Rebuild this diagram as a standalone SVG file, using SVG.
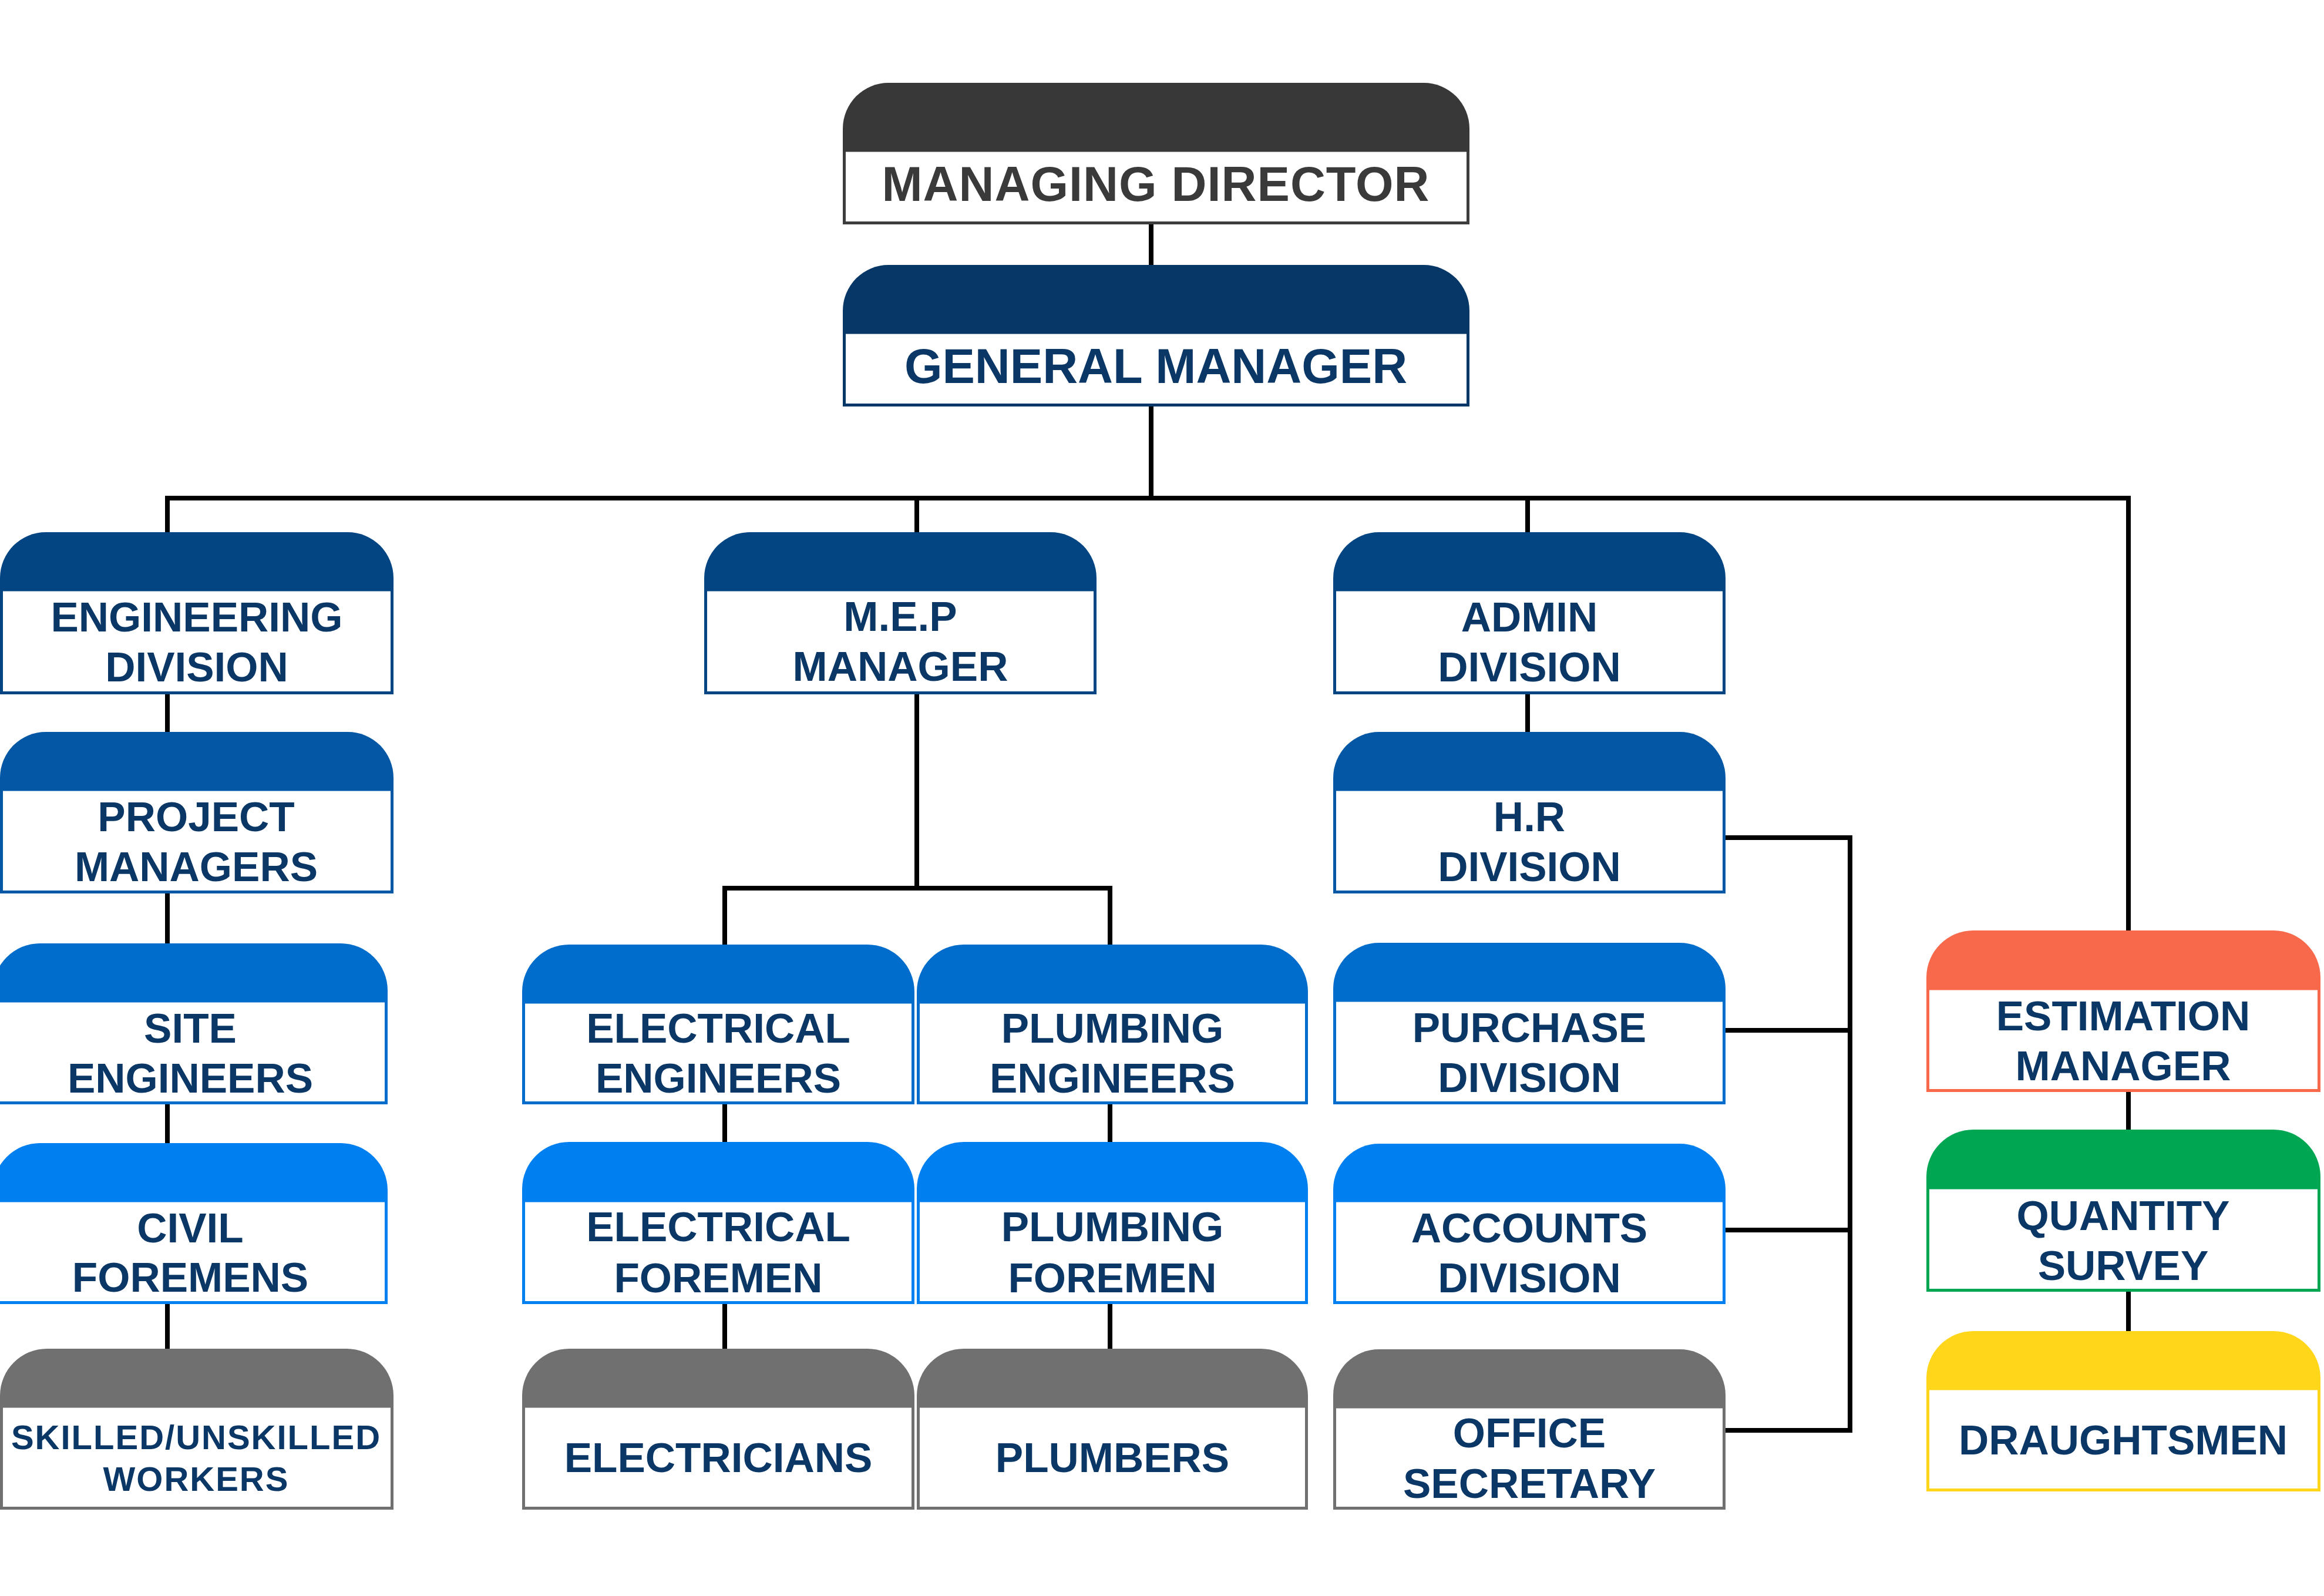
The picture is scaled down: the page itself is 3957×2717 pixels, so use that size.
<svg xmlns="http://www.w3.org/2000/svg" width="3957" height="2717" viewBox="0 0 3957 2717">
<style>
.bg{fill:#ffffff}
.ln{fill:none;stroke:#000000;stroke-width:8}
.body{fill:#ffffff;stroke-width:5}
.t{font-family:"Liberation Sans",Arial,sans-serif;font-weight:bold;font-size:71px;fill:#0a3766;text-anchor:middle}
.big{font-size:83px}
.sm{font-size:58px;letter-spacing:2px}
.c0{fill:#383838}.s0{stroke:#3d3d3d}
.c1{fill:#063767}.s1{stroke:#063767}
.c2{fill:#034583}.s2{stroke:#034583}
.c3{fill:#0357a5}.s3{stroke:#0357a5}
.c4{fill:#006ccc}.s4{stroke:#006ccc}
.c5{fill:#0080f0}.s5{stroke:#0080f0}
.c6{fill:#707070}.s6{stroke:#707070}
.c7{fill:#f8694b}.s7{stroke:#f8694b}
.c8{fill:#00a652}.s8{stroke:#00a652}
.c9{fill:#ffd61a}.s9{stroke:#ffd61a}
</style>
<rect class="bg" x="0" y="0" width="3957" height="2717"/>
<g id="connectors">
<path class="ln" d="M1960,382 V451"/>
<path class="ln" d="M1960,692 V848"/>
<path class="ln" d="M285,906 V848 H3624 V1584"/>
<path class="ln" d="M1561,848 V906"/>
<path class="ln" d="M2601,848 V906"/>
<path class="ln" d="M285,1182 V1246"/>
<path class="ln" d="M285,1521 V1606"/>
<path class="ln" d="M285,1880 V1946"/>
<path class="ln" d="M285,2220 V2296"/>
<path class="ln" d="M1561,1182 V1512"/>
<path class="ln" d="M1234,1608 V1512 H1890 V1608"/>
<path class="ln" d="M1234,1880 V1946"/>
<path class="ln" d="M1234,2220 V2296"/>
<path class="ln" d="M1890,1880 V1946"/>
<path class="ln" d="M1890,2220 V2296"/>
<path class="ln" d="M2601,1182 V1246"/>
<path class="ln" d="M2938,1426 H3150 V2435 H2938"/>
<path class="ln" d="M2938,1754 H3150"/>
<path class="ln" d="M2938,2094 H3150"/>
<path class="ln" d="M3624,1859 V1923"/>
<path class="ln" d="M3624,2199 V2266"/>
</g>
<g id="managing-director">
<rect class="body s0" x="1437.5" y="256" width="1062" height="123.5"/>
<path class="c0" d="M1435,258 V219 A78,78 0 0 1 1513,141 H2424 A78,78 0 0 1 2502,219 V258 Z"/>
<text class="t big" x="1968" y="342" style="fill:#3a3a3a;letter-spacing:1px">MANAGING DIRECTOR</text>
</g>
<g id="general-manager">
<rect class="body s1" x="1437.5" y="566" width="1062" height="123.5"/>
<path class="c1" d="M1435,568 V529 A78,78 0 0 1 1513,451 H2424 A78,78 0 0 1 2502,529 V568 Z"/>
<text class="t big" x="1968" y="652">GENERAL MANAGER</text>
</g>
<g id="engineering-division">
<rect class="body s2" x="2.5" y="1004" width="665" height="175.5"/>
<path class="c2" d="M0,1006 V984 A78,78 0 0 1 78,906 H592 A78,78 0 0 1 670,984 V1006 Z"/>
<text class="t" x="335" y="1075">ENGINEERING</text>
<text class="t" x="335" y="1160">DIVISION</text>
</g>
<g id="project-managers">
<rect class="body s3" x="2.5" y="1344" width="665" height="174.5"/>
<path class="c3" d="M0,1346 V1324 A78,78 0 0 1 78,1246 H592 A78,78 0 0 1 670,1324 V1346 Z"/>
<text class="t" x="334" y="1415">PROJECT</text>
<text class="t" x="334" y="1500">MANAGERS</text>
</g>
<g id="site-engineers">
<rect class="body s4" x="-9.5" y="1704" width="667" height="173.5"/>
<path class="c4" d="M-12,1706 V1686 A80,80 0 0 1 68,1606 H580 A80,80 0 0 1 660,1686 V1706 Z"/>
<text class="t" x="324" y="1775">SITE</text>
<text class="t" x="324" y="1860">ENGINEERS</text>
</g>
<g id="civil-foremens">
<rect class="body s5" x="-9.5" y="2044" width="667" height="173.5"/>
<path class="c5" d="M-12,2046 V2026 A80,80 0 0 1 68,1946 H580 A80,80 0 0 1 660,2026 V2046 Z"/>
<text class="t" x="324" y="2115">CIVIL</text>
<text class="t" x="324" y="2199">FOREMENS</text>
</g>
<g id="skilled-unskilled-workers">
<rect class="body s6" x="2.5" y="2394" width="665" height="173.5"/>
<path class="c6" d="M0,2396 V2376 A80,80 0 0 1 80,2296 H590 A80,80 0 0 1 670,2376 V2396 Z"/>
<text class="t sm" x="334" y="2467">SKILLED/UNSKILLED</text>
<text class="t sm" x="334" y="2538">WORKERS</text>
</g>
<g id="mep-manager">
<rect class="body s2" x="1201.5" y="1004" width="663" height="175.5"/>
<path class="c2" d="M1199,1006 V984 A78,78 0 0 1 1277,906 H1789 A78,78 0 0 1 1867,984 V1006 Z"/>
<text class="t" x="1533" y="1074">M.E.P</text>
<text class="t" x="1533" y="1159">MANAGER</text>
</g>
<g id="electrical-engineers">
<rect class="body s4" x="891.5" y="1706" width="663" height="171.5"/>
<path class="c4" d="M889,1708 V1688 A80,80 0 0 1 969,1608 H1477 A80,80 0 0 1 1557,1688 V1708 Z"/>
<text class="t" x="1223" y="1775">ELECTRICAL</text>
<text class="t" x="1223" y="1860">ENGINEERS</text>
</g>
<g id="plumbing-engineers">
<rect class="body s4" x="1563.5" y="1706" width="661" height="171.5"/>
<path class="c4" d="M1561,1708 V1688 A80,80 0 0 1 1641,1608 H2147 A80,80 0 0 1 2227,1688 V1708 Z"/>
<text class="t" x="1894" y="1775">PLUMBING</text>
<text class="t" x="1894" y="1860">ENGINEERS</text>
</g>
<g id="electrical-foremen">
<rect class="body s5" x="891.5" y="2044" width="663" height="173.5"/>
<path class="c5" d="M889,2046 V2024 A80,80 0 0 1 969,1944 H1477 A80,80 0 0 1 1557,2024 V2046 Z"/>
<text class="t" x="1223" y="2113">ELECTRICAL</text>
<text class="t" x="1223" y="2200">FOREMEN</text>
</g>
<g id="plumbing-foremen">
<rect class="body s5" x="1563.5" y="2044" width="661" height="173.5"/>
<path class="c5" d="M1561,2046 V2024 A80,80 0 0 1 1641,1944 H2147 A80,80 0 0 1 2227,2024 V2046 Z"/>
<text class="t" x="1894" y="2113">PLUMBING</text>
<text class="t" x="1894" y="2200">FOREMEN</text>
</g>
<g id="electricians">
<rect class="body s6" x="891.5" y="2394" width="663" height="173.5"/>
<path class="c6" d="M889,2396 V2376 A80,80 0 0 1 969,2296 H1477 A80,80 0 0 1 1557,2376 V2396 Z"/>
<text class="t" x="1223" y="2506">ELECTRICIANS</text>
</g>
<g id="plumbers">
<rect class="body s6" x="1563.5" y="2394" width="661" height="173.5"/>
<path class="c6" d="M1561,2396 V2376 A80,80 0 0 1 1641,2296 H2147 A80,80 0 0 1 2227,2376 V2396 Z"/>
<text class="t" x="1894" y="2506">PLUMBERS</text>
</g>
<g id="admin-division">
<rect class="body s2" x="2272.5" y="1004" width="663" height="175.5"/>
<path class="c2" d="M2270,1006 V984 A78,78 0 0 1 2348,906 H2860 A78,78 0 0 1 2938,984 V1006 Z"/>
<text class="t" x="2604" y="1075">ADMIN</text>
<text class="t" x="2604" y="1160">DIVISION</text>
</g>
<g id="hr-division">
<rect class="body s3" x="2272.5" y="1344" width="663" height="174.5"/>
<path class="c3" d="M2270,1346 V1324 A78,78 0 0 1 2348,1246 H2860 A78,78 0 0 1 2938,1324 V1346 Z"/>
<text class="t" x="2604" y="1415">H.R</text>
<text class="t" x="2604" y="1500">DIVISION</text>
</g>
<g id="purchase-division">
<rect class="body s4" x="2272.5" y="1703" width="663" height="174.5"/>
<path class="c4" d="M2270,1705 V1683 A78,78 0 0 1 2348,1605 H2860 A78,78 0 0 1 2938,1683 V1705 Z"/>
<text class="t" x="2604" y="1774">PURCHASE</text>
<text class="t" x="2604" y="1859">DIVISION</text>
</g>
<g id="accounts-division">
<rect class="body s5" x="2272.5" y="2044" width="663" height="173.5"/>
<path class="c5" d="M2270,2046 V2025 A78,78 0 0 1 2348,1947 H2860 A78,78 0 0 1 2938,2025 V2046 Z"/>
<text class="t" x="2604" y="2115">ACCOUNTS</text>
<text class="t" x="2604" y="2200">DIVISION</text>
</g>
<g id="office-secretary">
<rect class="body s6" x="2272.5" y="2395" width="663" height="172.5"/>
<path class="c6" d="M2270,2397 V2375 A78,78 0 0 1 2348,2297 H2860 A78,78 0 0 1 2938,2375 V2397 Z"/>
<text class="t" x="2604" y="2464">OFFICE</text>
<text class="t" x="2604" y="2550">SECRETARY</text>
</g>
<g id="estimation-manager">
<rect class="body s7" x="3282.5" y="1683" width="666" height="173.5"/>
<path class="c7" d="M3280,1685 V1664 A80,80 0 0 1 3360,1584 H3871 A80,80 0 0 1 3951,1664 V1685 Z"/>
<text class="t" x="3615" y="1754">ESTIMATION</text>
<text class="t" x="3615" y="1839">MANAGER</text>
</g>
<g id="quantity-survey">
<rect class="body s8" x="3282.5" y="2022" width="666" height="174.5"/>
<path class="c8" d="M3280,2024 V2003 A80,80 0 0 1 3360,1923 H3871 A80,80 0 0 1 3951,2003 V2024 Z"/>
<text class="t" x="3615" y="2094">QUANTITY</text>
<text class="t" x="3615" y="2179">SURVEY</text>
</g>
<g id="draughtsmen">
<rect class="body s9" x="3282.5" y="2364" width="666" height="172.5"/>
<path class="c9" d="M3280,2366 V2346 A80,80 0 0 1 3360,2266 H3871 A80,80 0 0 1 3951,2346 V2366 Z"/>
<text class="t" x="3615" y="2476">DRAUGHTSMEN</text>
</g>
</svg>
